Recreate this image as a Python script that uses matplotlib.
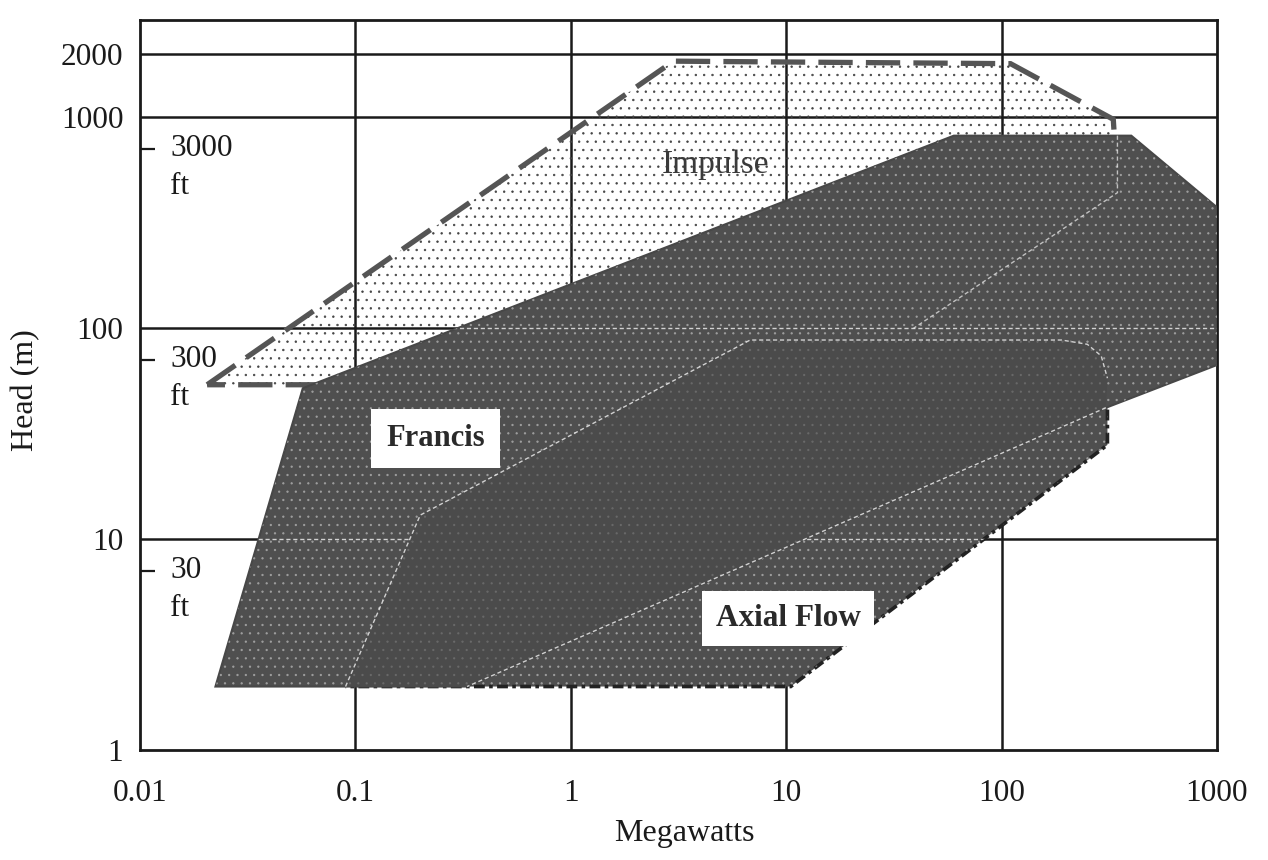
import matplotlib.pyplot as plt
import matplotlib.transforms as mtransforms
from matplotlib.patches import Polygon
from matplotlib.ticker import NullLocator

plt.rcParams['font.family'] = ['Liberation Serif', 'DejaVu Serif']
plt.rcParams['hatch.linewidth'] = 0.5

# axis ticks
x_ticks = [0.01, 0.1, 1, 10, 100, 1000]
x_labels = ['0.01', '0.1', '1', '10', '100', '1000']
y_ticks = [1, 10, 100, 1000, 2000]
y_labels = ['1', '10', '100', '1000', '2000']

# feet marks on the head axis (at the heights where the chart puts them)
ft_pos = [710, 71, 7.1]
ft_labels = ['3000', '300', '30']

# region outlines: power (MW) vs head (m)
impulse_mw = [0.0205, 3.0, 110, 330, 340, 60, 0.07]
impulse_head = [54, 1850, 1800, 980, 600, 600, 54]

francis_mw = [0.0224, 0.057, 60, 400, 1000, 1000, 305, 0.33]
francis_head = [2.0, 52, 820, 820, 375, 67, 42, 2.0]

axial_mw = [0.09, 0.2, 6.8, 190, 250, 290, 310, 310, 10.5]
axial_head = [2.0, 13, 88, 88, 84, 74, 58, 28, 2.0]

# faint boundary line in the upper right of the dark area
inner_mw = [345, 345, 39]
inner_head = [820, 440, 100]

DARK = '#4f4f4f'


def main():
    fig = plt.figure(figsize=(12.68, 8.6), dpi=100)
    ax = fig.add_axes([140 / 1268, 1 - 750 / 860, 1077 / 1268, 730 / 860])
    ax.set_xscale('log')
    ax.set_yscale('log')
    ax.set_xlim(0.01, 1000)
    ax.set_ylim(1, 2900)

    # grid
    for v in x_ticks[1:-1]:
        ax.axvline(v, color='#1a1a1a', lw=1.8, zorder=0.5)
    for v in y_ticks[1:]:
        ax.axhline(v, color='#1a1a1a', lw=1.8, zorder=0.5)

    francis = list(zip(francis_mw, francis_head))
    axial = list(zip(axial_mw, axial_head))
    impulse = list(zip(impulse_mw, impulse_head))
    overlap = axial[:7] + francis[6:8]

    # impulse: light stipple with dashed outline
    ax.add_patch(Polygon(impulse, closed=True, facecolor='none', edgecolor='#444444',
                         lw=0, hatch='..', zorder=1))
    ax.add_patch(Polygon(impulse, closed=True, fill=False, edgecolor='#555555', lw=3.8,
                         linestyle=(0, (6.5, 2.5)), joinstyle='miter', zorder=1.2))

    # axial flow
    p_ax = Polygon(axial, closed=True, facecolor=DARK, edgecolor='#222222', lw=2.6,
                   linestyle=(0, (3, 1.2, 1, 1.2)), zorder=2)
    ax.add_patch(p_ax)
    ax.add_patch(Polygon(axial, closed=True, facecolor='none', edgecolor=(1, 1, 1, 0.35),
                         lw=0, hatch='..', zorder=2.1))

    # francis
    p_fr = Polygon(francis, closed=True, facecolor=DARK, edgecolor='#474747', lw=1.5, zorder=3)
    ax.add_patch(p_fr)
    ax.add_patch(Polygon(francis, closed=True, facecolor='none', edgecolor=(1, 1, 1, 0.35),
                         lw=0, hatch='..', zorder=3.1))

    # grid showing through the dark regions
    for patch in (p_ax, p_fr):
        for v in y_ticks[1:3]:
            ln = ax.axhline(v, color='white', lw=1.0, ls=(0, (3, 2)), alpha=0.75, zorder=3.2)
            ln.set_clip_path(patch)

    # overlap of francis and axial flow
    ax.add_patch(Polygon(overlap, closed=True, facecolor='#4b4b4b', edgecolor='none', zorder=4))
    ax.add_patch(Polygon(overlap, closed=True, facecolor='none', edgecolor=(1, 1, 1, 0.12),
                         lw=0, hatch='..', zorder=4.1))

    # internal boundaries
    ax.plot(axial_mw[:7], axial_head[:7], color='white', lw=1.0, ls=(0, (3, 2)), alpha=0.75, zorder=5)
    ax.plot(francis_mw[6:8], francis_head[6:8], color='white', lw=1.0, ls=(0, (3, 2)), alpha=0.75, zorder=5)
    ax.plot(inner_mw, inner_head, color='white', lw=1.0, ls=(0, (3, 2)), alpha=0.65, zorder=5)

    # labels
    ax.text(4.7, 600, 'Impulse', fontsize=24, color='#3a3a3a', ha='center', va='center', zorder=6)
    ax.text(0.235, 30, 'Francis', fontsize=22, fontweight='bold', color='#2a2a2a',
            ha='center', va='center', zorder=6,
            bbox=dict(boxstyle='square,pad=0.5', facecolor='white', edgecolor='none'))
    ax.text(10.2, 4.2, 'Axial Flow', fontsize=22.5, fontweight='bold', color='#2a2a2a',
            ha='center', va='center', zorder=6,
            bbox=dict(boxstyle='square,pad=0.42', facecolor='white', edgecolor='none'))

    # ticks
    ax.set_xticks(x_ticks, x_labels)
    ax.set_yticks(y_ticks, y_labels)
    ax.xaxis.set_minor_locator(NullLocator())
    ax.set_yticks(ft_pos, minor=True)
    ax.tick_params(which='major', length=0, labelsize=22.5, colors='#1a1a1a')
    ax.tick_params(axis='x', which='major', pad=21)
    ax.tick_params(axis='y', which='major', pad=12)
    ax.tick_params(axis='y', which='minor', direction='in', length=11, width=1.6,
                   color='#1a1a1a', labelleft=False)

    trans = mtransforms.blended_transform_factory(ax.transAxes, ax.transData)
    for pos, lab in zip(ft_pos, ft_labels):
        ax.annotate(lab, xy=(0, pos), xycoords=trans, xytext=(30, 0), textcoords='offset pixels',
                    fontsize=22.5, ha='left', va='center', color='#1a1a1a')
        ax.annotate('ft', xy=(0, pos), xycoords=trans, xytext=(30, -38), textcoords='offset pixels',
                    fontsize=22.5, ha='left', va='center', color='#1a1a1a')

    for sp in ax.spines.values():
        sp.set_linewidth(2.0)
        sp.set_color('#1a1a1a')

    fig.text(26 / 1268, 1 - 390 / 860, 'Head (m)', rotation=90, fontsize=23,
             ha='center', va='center', color='#1a1a1a')
    fig.text(684 / 1268, 1 - 833 / 860, 'Megawatts', fontsize=23,
             ha='center', va='center', color='#1a1a1a')

    fig.savefig('out.png', dpi=100)


if __name__ == '__main__':
    main()
